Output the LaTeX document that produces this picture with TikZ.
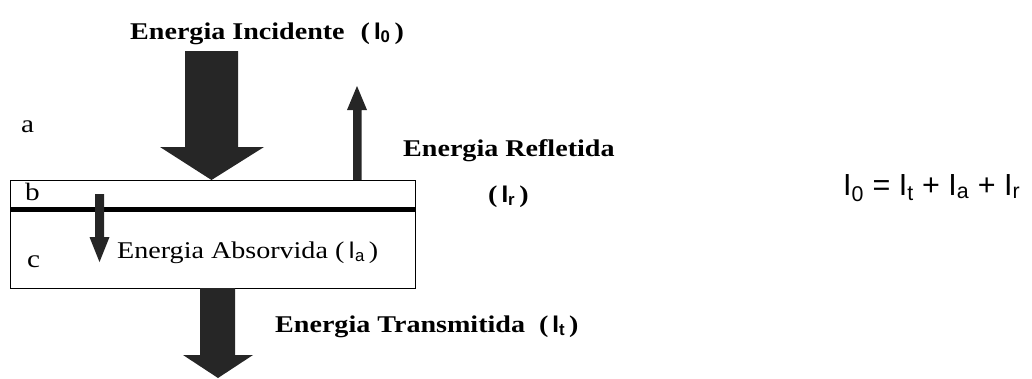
\documentclass[tikz,border=0pt]{standalone}
\usepackage{fontspec}
\setmainfont{Liberation Serif}[FakeStretch=1.17]
\setsansfont{Liberation Sans}
\newcommand\symI[1]{\textsf{I}\textsubscript{\sffamily #1}}
\begin{document}
\begin{tikzpicture}[x=1pt,y=-1pt,
  lbl/.style={inner sep=0pt, anchor=base west, font=\fontsize{24}{28}\selectfont\bfseries},
  plainlbl/.style={inner sep=0pt, anchor=base west, font=\fontsize{24}{28}\selectfont},
  letter/.style={inner sep=0pt, anchor=base west, font=\fontsize{25}{29}\selectfont},
  fatarrow/.style={fill=black!85, draw=none},
  platebox/.style={draw=black, line width=1.4pt}]
\useasboundingbox (0,0) rectangle (1032,378);
% plate
\node[platebox, minimum width=405pt, minimum height=108pt, inner sep=0pt, anchor=north west] (plate) at (10,180) {};
\coordinate (ifL) at (10,209);
\coordinate (ifR) at (415,209);
\draw[line width=5pt] (ifL) -- (ifR);
% incident arrow
\fill[fatarrow] (185,51) -- (238,51) -- (238,147) -- (264,147) -- (211.5,180) -- (160,147) -- (185,147) -- cycle;
% reflected arrow
\fill[fatarrow] (353,180) -- (361.5,180) -- (361.5,110) -- (367,110) -- (357,86) -- (347,110) -- (353,110) -- cycle;
% absorbed arrow
\fill[fatarrow] (95,194) -- (104,194) -- (104,237) -- (109.5,237) -- (99.5,262) -- (89.5,237) -- (95,237) -- cycle;
% transmitted arrow
\fill[fatarrow] (200,288) -- (235,288) -- (235,355) -- (253,355) -- (218,378) -- (183,355) -- (200,355) -- cycle;
% labels
\node[lbl] (inc) at (130,39) {Energia Incidente\hspace{16pt}(\,\symI{0}\,)};
\node[lbl] (refl) at (403,156) {Energia Refletida};
\node[lbl] (reflI) at (488,202) {(\,\symI{r}\,)};
\node[plainlbl] (abs) at (117,258) {Energia Absorvida (\,\symI{a}\,)};
\node[lbl] (trans) at (275,332) {Energia Transmitida\hspace{14pt}(\,\symI{t}\,)};
\node[letter] (la) at (21,132) {a};
\node[letter] (lb) at (25,200) {b};
\node[letter] (lc) at (27,267) {c};
% equation
\node[inner sep=0pt, anchor=base west, font=\sffamily\fontsize{30.5}{36}\selectfont] (eq) at (843,195)
  {I\textsubscript{0} = I\textsubscript{t} + I\textsubscript{a} + I\textsubscript{r}};
\end{tikzpicture}
\end{document}
